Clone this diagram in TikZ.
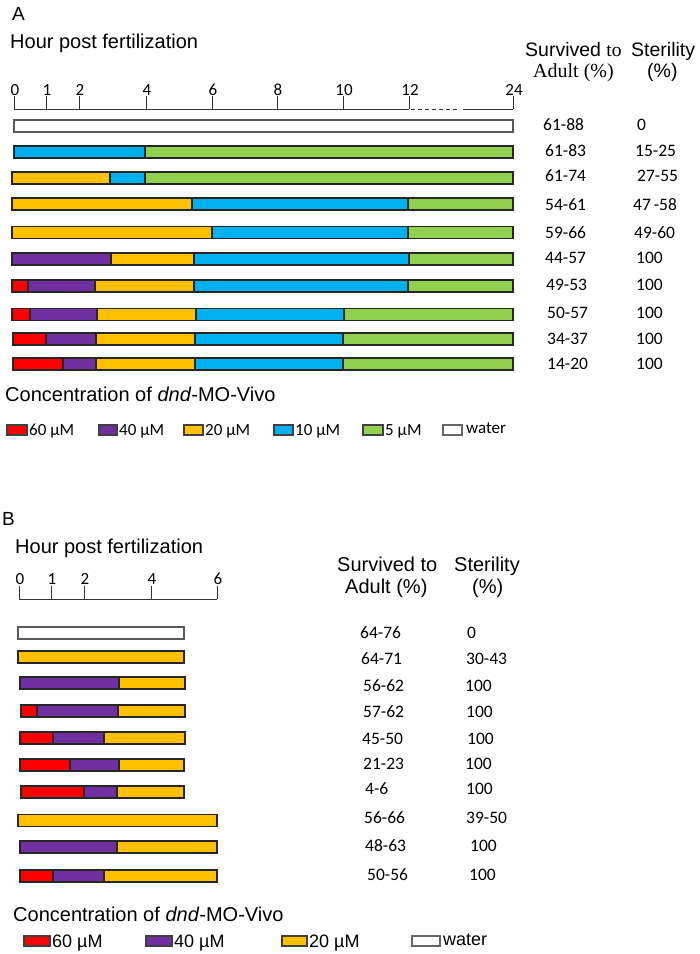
\documentclass[tikz,border=0pt]{standalone}
\usepackage{fontspec}
\setmainfont{Liberation Sans}
\newfontfamily\calfont{Carlito}
\newfontfamily\tmsfont{Liberation Serif}
\definecolor{cred}{HTML}{FF0000}
\definecolor{cpur}{HTML}{7030A0}
\definecolor{cyel}{HTML}{FFC000}
\definecolor{cblu}{HTML}{00B0F0}
\definecolor{cgrn}{HTML}{92D050}
\definecolor{cwht}{HTML}{FFFFFF}
\newcommand\mybar[2]{%
  \foreach \a/\b/\c in {#2} {\draw[seg,fill=\c] (\a,#1-6) rectangle (\b,#1+6);}}
\begin{document}
\begin{tikzpicture}[x=1pt,y=-1pt,
  seg/.style={draw=black!85,line width=1.1pt},
  wseg/.style={draw=black!65,line width=1.1pt,fill=white},
  axisline/.style={draw=black!80,line width=0.9pt},
  lbl/.style={inner sep=0pt,anchor=base west},
  ctr/.style={inner sep=0pt,anchor=base},
  big/.style={font=\fontsize{20}{24}\selectfont},
  hdr/.style={font=\fontsize{19.5}{23}\selectfont},
  val/.style={font=\calfont\fontsize{17.5}{20}\selectfont},
  ticklbl/.style={font=\calfont\fontsize{17}{20}\selectfont},
  legA/.style={font=\calfont\fontsize{17}{20}\selectfont},
  legB/.style={font=\fontsize{18}{21}\selectfont},
  swatch/.style={draw=black!75,line width=1.1pt}
]
\useasboundingbox (0,0) rectangle (700,954);

% ---------------- Panel A ----------------
\node[lbl,font=\fontsize{19}{22}\selectfont] (pA) at (12,20) {A};
\node[lbl,big] (hA) at (10,48) {Hour post fertilization};
\node[lbl,hdr] (sA1) at (525,56) {Survived {\tmsfont to}};
\node[lbl,hdr] (sA2) at (631,56) {Sterility};
\node[lbl,hdr,font=\tmsfont\fontsize{20}{23}\selectfont] (sA3) at (533,77) {Adult (\%)};
\node[lbl,hdr] (sA4) at (647,77) {(\%)};

% axis A
\draw[axisline] (14,109) -- (409,109);
\draw[axisline,dashed,dash pattern=on 4pt off 3pt] (411,109) -- (458,109);
\draw[axisline] (463,109) -- (513,109);
\foreach \x/\t [count=\i] in {14/0,46/1,79/2,146/4,212/6,277/8,343/10,409/12,513/24} {
  \draw[axisline] (\x,96) -- (\x,109);
  \node[ctr,ticklbl] (tA\i) at (\x+1,95) {\t};
}

% bars A
\draw[wseg] (14,120) rectangle (513,132);
\mybar{152}{14/145/cblu,145/513/cgrn}
\mybar{178}{12/110/cyel,110/145/cblu,145/513/cgrn}
\mybar{204}{12/192/cyel,192/408/cblu,408/513/cgrn}
\mybar{232.5}{12/212/cyel,212/408/cblu,408/513/cgrn}
\mybar{259}{12/111/cpur,111/194/cyel,194/409/cblu,409/513/cgrn}
\mybar{286}{12/28/cred,28/95/cpur,95/194/cyel,194/408/cblu,408/513/cgrn}
\mybar{314.5}{12/30/cred,30/97/cpur,97/196/cyel,196/344/cblu,344/513/cgrn}
\mybar{339}{13/46/cred,46/96/cpur,96/195/cyel,195/343/cblu,343/513/cgrn}
\mybar{364}{13/63/cred,63/96/cpur,96/195/cyel,195/343/cblu,343/513/cgrn}

% values A
\foreach \y/\xa/\va/\xb/\vb [count=\i] in {
  125/543/61-88/637/0, 151/545/61-83/635/15-25, 176/545/61-74/637/27-55,
  205/545/54-61/633/47\,-58, 233/545/59-66/634/49-60, 258/545/44-57/636/100,
  285/546/49-53/636/100, 313/547/50-57/636/100, 339/547/34-37/636/100,
  364/547/14-20/636/100} {
  \node[lbl,val] (vA\i) at (\xa,\y+5.5) {\va};
  \node[lbl,val] (wA\i) at (\xb,\y+5.5) {\vb};
}

% legend A
\node[lbl,big] (cA) at (5,401) {Concentration of \textit{dnd}-MO-Vivo};
\foreach \xa/\xb/\c/\t [count=\i] in {7/27/cred/60 µM, 99/117/cpur/40 µM,
  184/203/cyel/20 µM, 274/293/cblu/10 µM, 363/383/cgrn/5 µM} {
  \draw[swatch,fill=\c] (\xa,425) rectangle (\xb,435);
  \node[lbl,legA] (lA\i) at (\xb+2,435) {\t};
}
\draw[swatch,draw=black!60,fill=white] (443,425) rectangle (462,435);
\node[lbl,legA] (lA6) at (466,433) {water};

% ---------------- Panel B ----------------
\node[lbl,font=\fontsize{19}{22}\selectfont] (pB) at (2,525) {B};
\node[lbl,big] (hB) at (15,553) {Hour post fertilization};
\node[lbl,big] (sB1) at (337,571) {Survived to};
\node[lbl,big] (sB2) at (454,571) {Sterility};
\node[lbl,big] (sB3) at (345,593) {Adult (\%)};
\node[lbl,big] (sB4) at (472,593) {(\%)};

% axis B
\draw[axisline] (19,599) -- (217,599);
\foreach \x/\t [count=\i] in {19/0,51/1,84/2,151/4,217/6} {
  \draw[axisline] (\x,586) -- (\x,599);
  \node[ctr,ticklbl] (tB\i) at (\x+1,584) {\t};
}

% bars B
\draw[wseg] (18,627) rectangle (184,639);
\mybar{657}{18/184/cyel}
\mybar{683}{20/119/cpur,119/185/cyel}
\mybar{711}{21/37/cred,37/118/cpur,118/185/cyel}
\mybar{738}{20/53/cred,53/104/cpur,104/185/cyel}
\mybar{765}{20/70/cred,70/119/cpur,119/184/cyel}
\mybar{792}{21/84/cred,84/117/cpur,117/184/cyel}
\mybar{820.5}{18/217/cyel}
\mybar{847}{20/117/cpur,117/217/cyel}
\mybar{876}{20/53/cred,53/104/cpur,104/217/cyel}

% values B
\foreach \y/\xa/\va/\xb/\vb [count=\i] in {
  633/360/64-76/467/0, 659/361/64-71/466/30-43, 686/363/56-62/465/100,
  712/363/57-62/466/100, 739/362/45-50/467/100, 764/363/21-23/465/100,
  789/365/4-6/466/100, 818/364/56-66/466/39-50, 846/365/48-63/470/100,
  875/367/50-56/469/100} {
  \node[lbl,val] (vB\i) at (\xa,\y+5.5) {\va};
  \node[lbl,val] (wB\i) at (\xb,\y+5.5) {\vb};
}

% legend B
\node[lbl,big] (cB) at (13,921) {Concentration of \textit{dnd}-MO-Vivo};
\foreach \xa/\xb/\c/\t [count=\i] in {24/50/cred/60 µM, 146/172/cpur/40 µM,
  282/307/cyel/20 µM} {
  \draw[swatch,fill=\c] (\xa,936) rectangle (\xb,946);
  \node[lbl,legB] (lB\i) at (\xb+2,947) {\t};
}
\draw[swatch,draw=black!60,fill=white] (412,936) rectangle (440,946);
\node[lbl,legB] (lB4) at (443,945) {water};
\end{tikzpicture}
\end{document}
